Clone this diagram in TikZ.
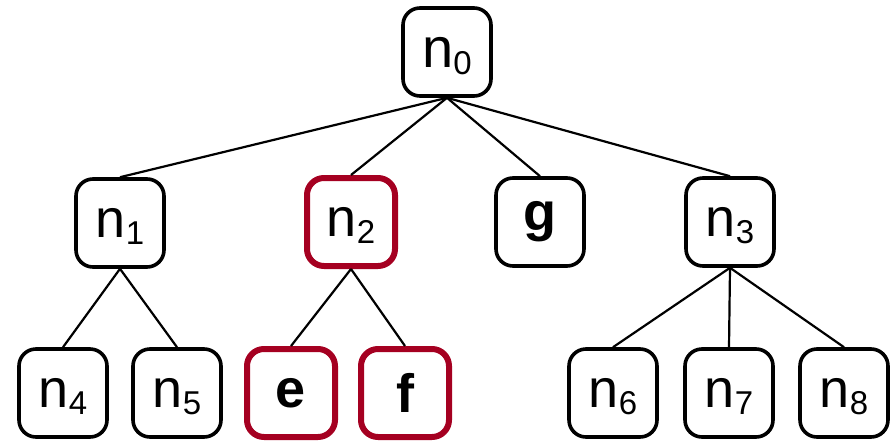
\documentclass[tikz,border=0pt]{standalone}
\usepackage{fontspec}
\setmainfont{Liberation Sans}
\definecolor{dred}{RGB}{165,0,33}
\newcommand{\nsub}[1]{n\raisebox{-7pt}[0pt][0pt]{\fontsize{33}{33}\selectfont #1}}
\begin{document}
\begin{tikzpicture}[x=1pt,y=-1pt,
  box/.style={draw, line width=3.6pt, rounded corners=17pt, minimum width=88pt, minimum height=88pt, inner sep=0pt, font=\fontsize{54}{60}\selectfont},
  hl/.style={box, draw=dred, line width=6pt},
  edge/.style={line width=2.2pt}]
\useasboundingbox (0,0) rectangle (893,442);
\node[box, font=\fontsize{56}{60}\selectfont] (n0) at (447,52) {\nsub{0}};
\node[box] (n1) at (120,223) {\nsub{1}};
\node[hl] (n2) at (351,222) {\nsub{2}};
\node[box] (g) at (540,222) {\bfseries g};
\node[box] (n3) at (730,222) {\nsub{3}};
\node[box] (n4) at (63,393) {\nsub{4}};
\node[box] (n5) at (177,393) {\nsub{5}};
\node[hl] (e) at (291,393) {\bfseries e};
\node[hl] (f) at (405,393) {\bfseries f};
\node[box] (n6) at (613,393) {\nsub{6}};
\node[box] (n7) at (729,393) {\nsub{7}};
\node[box] (n8) at (844,393) {\nsub{8}};
\foreach \c in {n1,n2,g,n3} \draw[edge] (n0.south) -- (\c.north);
\foreach \c in {n4,n5} \draw[edge] (n1.south) -- (\c.north);
\foreach \c in {e,f} \draw[edge] (n2.south) -- (\c.north);
\foreach \c in {n6,n7,n8} \draw[edge] (n3.south) -- (\c.north);
\end{tikzpicture}
\end{document}
